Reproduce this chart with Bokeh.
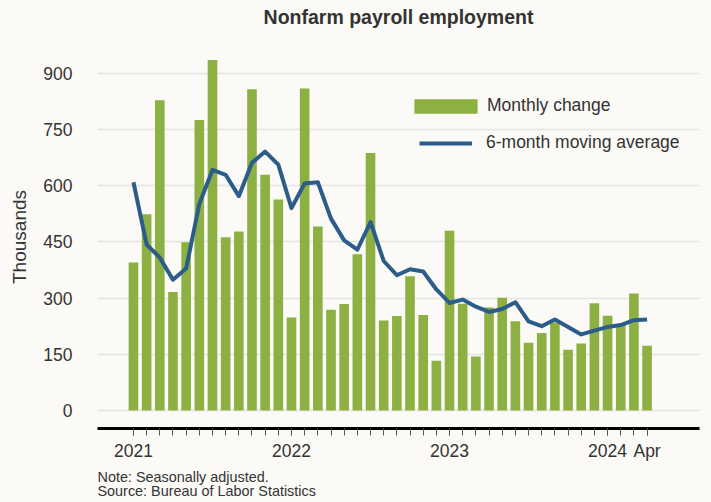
from bokeh.plotting import figure
from bokeh.models import (FixedTicker, Legend, LegendItem, Title, Range1d,
                          GlobalInlineStyleSheet, ColumnDataSource)
from bokeh.embed import file_html
from bokeh.resources import INLINE

# ---- data (thousands) ----
month_index = list(range(40))  # Jan 2021 .. Apr 2024
monthly_change = [395, 524, 828, 316, 449, 775, 935, 462, 478, 857, 629, 563,
                  248, 859, 491, 269, 284, 417, 687, 240, 252, 358, 255, 133,
                  480, 285, 144, 275, 301, 238, 181, 207, 235, 162, 179, 286,
                  253, 228, 312, 173]
moving_avg = [609, 443, 408, 349, 379, 551, 642, 629, 572, 661, 691, 656,
              540, 606, 609, 512, 454, 429, 503, 399, 361, 377, 371, 323,
              287, 296, 277, 263, 271, 289, 238, 225, 243, 223, 203, 213,
              223, 228, 241, 243]
x_tick_positions = [0, 12, 24, 36, 39]
x_tick_labels = ["2021", "2022", "2023", "2024", "Apr"]
y_ticks = [0, 150, 300, 450, 600, 750, 900]
chart_title = "Nonfarm payroll employment"
notes = "Note: Seasonally adjusted.\nSource: Bureau of Labor Statistics"

BG = "#fbfaf6"
GREEN = "#8db043"
BLUE = "#2b5c8a"
TEXT = "#333333"
FONT = "Liberation Sans"

src = ColumnDataSource(dict(x=month_index, change=monthly_change, avg=moving_avg))

p = figure(width=711, height=502, output_backend="svg", toolbar_location=None,
           x_range=Range1d(-2.73, 42.98), y_range=Range1d(-48, 974),
           min_border_left=97, min_border_right=12, min_border_top=45,
           min_border_bottom=73)
p.background_fill_color = BG
p.border_fill_color = BG
p.outline_line_color = None
p.stylesheets = [GlobalInlineStyleSheet(css="body { background: %s; }" % BG)]

# spacer between frame and title, then the title itself
p.add_layout(Title(text=" ", text_font_size="1px", standoff=15), "above")
p.add_layout(Title(text=chart_title, align="center", text_font=FONT,
                   text_font_size="19.5px", text_font_style="bold",
                   text_color=TEXT, standoff=0), "above")

bars = p.vbar(x="x", top="change", width=0.73, source=src,
              fill_color=GREEN, line_color=None)
line = p.line(x="x", y="avg", source=src, line_color=BLUE, line_width=4,
              line_join="round")

# grid
p.xgrid.grid_line_color = None
p.ygrid.grid_line_color = "#e4e4e4"
p.ygrid.grid_line_width = 1.5
p.ygrid.ticker = FixedTicker(ticks=y_ticks)

# y axis
ya = p.yaxis[0]
ya.ticker = FixedTicker(ticks=y_ticks)
ya.axis_line_color = None
ya.major_tick_line_color = None
ya.minor_tick_line_color = None
ya.major_label_standoff = 19
ya.major_label_text_font = FONT
ya.major_label_text_font_size = "17.5px"
ya.major_label_text_color = TEXT
ya.axis_label = "Thousands"
ya.axis_label_text_font = FONT
ya.axis_label_text_font_size = "19px"
ya.axis_label_text_font_style = "normal"
ya.axis_label_text_color = TEXT
ya.axis_label_standoff = 10

# x axis
xa = p.xaxis[0]
xa.ticker = FixedTicker(ticks=x_tick_positions, minor_ticks=month_index)
xa.major_label_overrides = {k: v for k, v in zip(x_tick_positions, x_tick_labels)}
xa.axis_line_color = "black"
xa.axis_line_width = 3
xa.major_tick_line_color = "#555555"
xa.minor_tick_line_color = "#555555"
xa.major_tick_in = 0
xa.minor_tick_in = 0
xa.major_tick_out = 7
xa.minor_tick_out = 7
xa.major_label_standoff = 5
xa.major_label_text_font = FONT
xa.major_label_text_font_size = "17.5px"
xa.major_label_text_color = TEXT

# legends
leg1 = Legend(items=[LegendItem(label="Monthly change", renderers=[bars])],
              location=(309, 312), glyph_width=79, glyph_height=18,
              label_standoff=2, padding=0, margin=0, spacing=0,
              border_line_color=None, background_fill_alpha=0,
              label_text_font=FONT, label_text_font_size="17.5px",
              label_text_color=TEXT, label_height=18)
leg2 = Legend(items=[LegendItem(label="6-month moving average", renderers=[line])],
              location=(322, 275), glyph_width=53, glyph_height=18,
              label_standoff=14, padding=0, margin=0, spacing=0,
              border_line_color=None, background_fill_alpha=0,
              label_text_font=FONT, label_text_font_size="17.5px",
              label_text_color=TEXT, label_height=18)
p.add_layout(leg1, "center")
p.add_layout(leg2, "center")

# notes
t = Title(text=notes, align="left", text_font=FONT, text_font_size="14.4px",
          text_font_style="normal", text_color=TEXT, standoff=7, offset=0,
          text_line_height=0.9)
p.add_layout(t, "below")

open("out.html", "w").write(file_html(p, INLINE))
